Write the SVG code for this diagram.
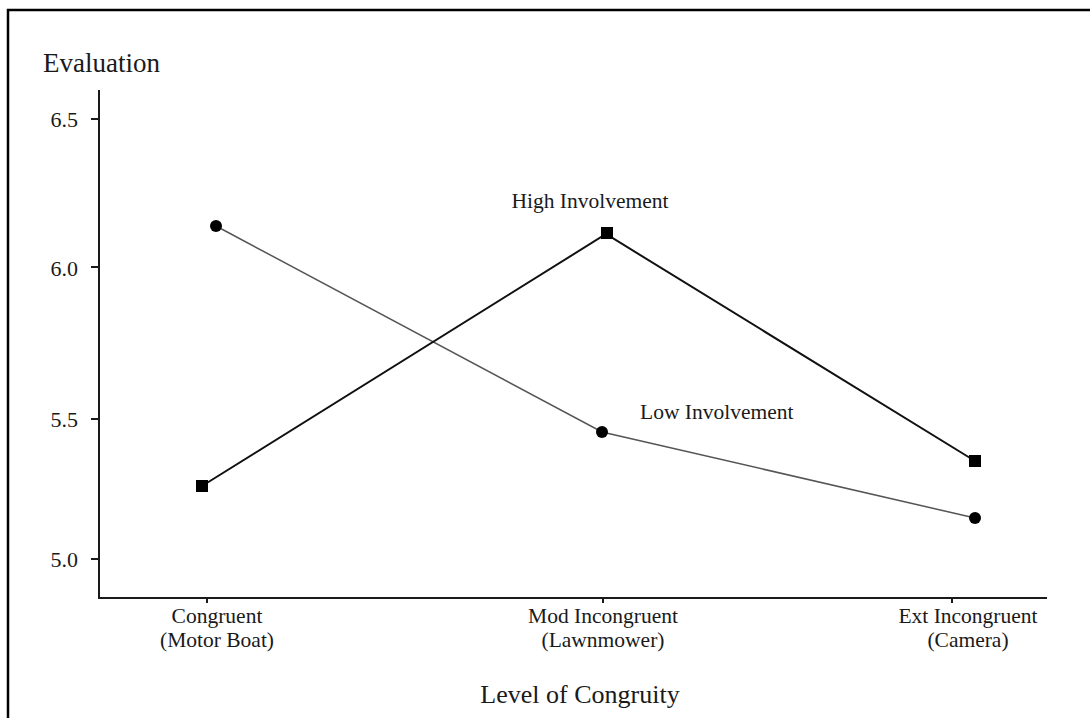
<svg xmlns="http://www.w3.org/2000/svg" width="1090" height="718" viewBox="0 0 1090 718">
  <style>
    text { font-family: "Liberation Serif", "Times New Roman", serif; fill: #1a1a1a; }
    .tick { font-size: 22px; text-anchor: end; }
    .cat { font-size: 21.5px; text-anchor: middle; }
    .lbl { font-size: 21.5px; }
    .axis { stroke: #1a1a1a; stroke-width: 2; fill: none; }
    .high { stroke: #111; stroke-width: 2; fill: none; }
    .low { stroke: #555; stroke-width: 1.5; fill: none; }
  </style>
  <defs>
    <rect id="sq" x="-6" y="-6" width="12" height="12" fill="#000"/>
    <circle id="dot" r="6" fill="#000"/>
  </defs>
  <rect width="1090" height="718" fill="#fff"/>
  <!-- frame -->
  <path d="M8 718 V10 H1090" stroke="#000" stroke-width="2.5" fill="none"/>

  <!-- axes -->
  <g id="axes">
    <path class="axis" d="M99 90 V598 H1047"/>
    <path class="axis" d="M91 119 H99 M91 267 H99 M91 419 H99 M91 559 H99"/>
    <path class="axis" d="M207 598 V603 M603 598 V603 M952 598 V603" stroke-width="1.5"/>
    <text x="43" y="72" style="font-size:27px">Evaluation</text>
    <text class="tick" x="78" y="127">6.5</text>
    <text class="tick" x="78" y="276">6.0</text>
    <text class="tick" x="78" y="427">5.5</text>
    <text class="tick" x="78" y="567">5.0</text>
    <text class="cat" x="217" y="623">Congruent</text>
    <text class="cat" x="217" y="647">(Motor Boat)</text>
    <text class="cat" x="603" y="623">Mod Incongruent</text>
    <text class="cat" x="603" y="647">(Lawnmower)</text>
    <text class="cat" x="968" y="623">Ext Incongruent</text>
    <text class="cat" x="968" y="647">(Camera)</text>
    <text x="580" y="703" style="font-size:26px;text-anchor:middle">Level of Congruity</text>
  </g>

  <!-- series lines -->
  <g id="connectors">
    <polyline class="low" points="216,226 602,432 975,518"/>
    <polyline class="high" points="202,486 606,234 975,461"/>
  </g>

  <g id="high-involvement">
    <use href="#sq" x="202" y="486"/>
    <use href="#sq" x="607" y="233"/>
    <use href="#sq" x="975" y="461"/>
    <text class="lbl" x="590" y="208" text-anchor="middle">High Involvement</text>
  </g>

  <g id="low-involvement">
    <use href="#dot" x="216" y="226"/>
    <use href="#dot" x="602" y="432"/>
    <use href="#dot" x="975" y="518"/>
    <text class="lbl" x="640" y="419">Low Involvement</text>
  </g>
</svg>
